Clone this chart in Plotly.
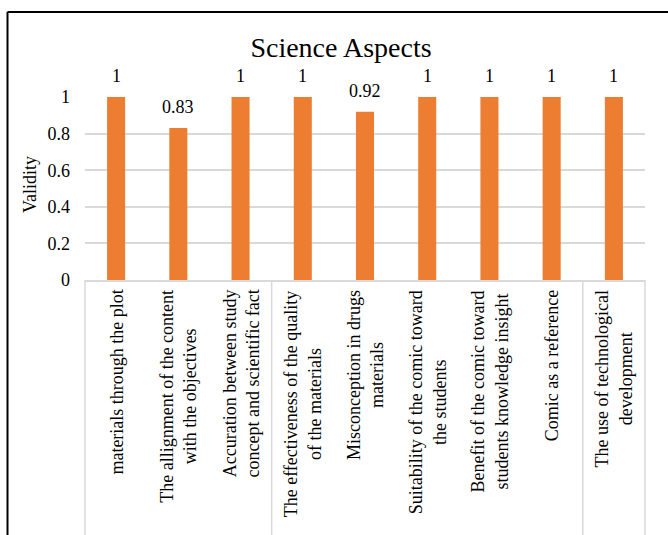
import plotly.graph_objects as go

# Science aspect validity scores
categories = [
    "materials through the plot",
    "The allignment of the content<br>with the objectives",
    "Accuration between study<br>concept and scientific fact",
    "The effectiveness of the quality<br>of the materials",
    "Misconception in drugs<br>materials",
    "Suitability of the comic toward<br>the students",
    "Benefit of the comic toward<br>students knowledge insight",
    "Comic as a reference",
    "The use of technological<br>development",
]
validity = [1, 0.83, 1, 1, 0.92, 1, 1, 1, 1]
y_ticks = [0, 0.2, 0.4, 0.6, 0.8, 1]
# group sizes of the outer category level (drawn as divider boxes)
group_sizes = [3, 5, 1]

W, H = 668, 535
ML, MR, MT, MB = 85, 23, 97, 255
PW, PH = W - ML - MR, H - MT - MB

FONT = "Liberation Serif, Times New Roman, serif"
ORANGE = "#ED7D31"
GRID = "#D9D9D9"


def px_x(px):
    return (px - ML) / PW


def px_y(py):
    return (H - MB - py) / PH


keys = [f"c{i}" for i in range(len(categories))]

fig = go.Figure(
    go.Bar(
        x=keys,
        y=validity,
        marker=dict(color=ORANGE, line=dict(width=0)),
        hoverinfo="skip",
    )
)

annotations = []
# value labels above bars
for k, v in zip(keys, validity):
    annotations.append(dict(
        x=k, y=v, xref="x", yref="y", text=f"{v:g}", showarrow=False,
        yanchor="bottom", yshift=9, font=dict(family=FONT, size=18, color="#000"),
    ))
# rotated category labels under the axis
for k, lab in zip(keys, categories):
    annotations.append(dict(
        x=k, y=0, xref="x", yref="paper", text=lab, showarrow=False,
        textangle=-90, align="center", xanchor="center", yanchor="top",
        yshift=-8, font=dict(family=FONT, size=18, color="#000"),
    ))
# y-axis title
annotations.append(dict(
    x=px_x(30), y=px_y(185), xref="paper", yref="paper", text="Validity",
    showarrow=False, textangle=-90, xanchor="center", yanchor="middle",
    font=dict(family=FONT, size=18, color="#000"),
))

shapes = []
# category group dividers
n = len(categories)
bounds = [0]
for g in group_sizes:
    bounds.append(bounds[-1] + g)
for b in bounds:
    shapes.append(dict(
        type="line", xref="x domain", yref="paper",
        x0=b / n, x1=b / n, y0=0, y1=px_y(H + 10),
        line=dict(color=GRID, width=1.5),
    ))
# chart frame (left and top edges)
shapes.append(dict(
    type="line", xref="paper", yref="paper",
    x0=px_x(7.5), x1=px_x(7.5), y0=px_y(12), y1=px_y(H + 10),
    line=dict(color="#000", width=2),
))
shapes.append(dict(
    type="line", xref="paper", yref="paper",
    x0=px_x(7.5), x1=px_x(W + 10), y0=px_y(12), y1=px_y(12),
    line=dict(color="#000", width=2),
))

fig.update_layout(
    width=W, height=H,
    margin=dict(l=ML, r=MR, t=MT, b=MB, pad=0),
    paper_bgcolor="white", plot_bgcolor="white",
    bargap=0.71,
    showlegend=False,
    font=dict(family=FONT, size=18, color="#000"),
    title=dict(
        text="Science Aspects", x=341 / W, xanchor="center",
        y=1 - 47 / H, yanchor="middle",
        font=dict(family=FONT, size=28, color="#000"),
    ),
    xaxis=dict(
        showticklabels=False, showgrid=False, zeroline=False,
        showline=True, linecolor=GRID, linewidth=1.5, ticks="",
        fixedrange=True,
    ),
    yaxis=dict(
        range=[0, 1], tickvals=y_ticks, ticktext=[f"{t:g}" for t in y_ticks],
        showgrid=True, gridcolor=GRID, gridwidth=1.5, zeroline=False,
        showline=False, ticks="", ticklabelstandoff=14,
        tickfont=dict(family=FONT, size=18, color="#000"),
        fixedrange=True,
    ),
    annotations=annotations,
    shapes=shapes,
)

fig.write_html("out.html")
